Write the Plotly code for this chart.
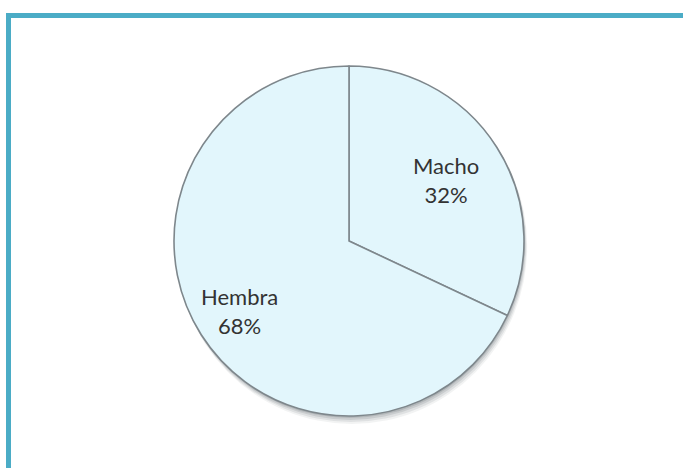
import plotly.graph_objects as go

labels = ["Macho", "Hembra"]
values = [32, 68]
slice_colors = ["#E2F6FC", "#E2F6FC"]

W, H = 683, 468
cx, cy, r = 349, 241, 175  # pixel layout of the pie

def px(x):
    return x / W

def py(y):
    return 1 - y / H

total = sum(values)
pct = [f"{round(v * 100 / total)}%" for v in values]

fig = go.Figure()
fig.add_trace(go.Pie(
    labels=labels,
    values=values,
    sort=False,
    direction="clockwise",
    rotation=0,
    textinfo="none",
    hoverinfo="label+percent",
    marker=dict(colors=slice_colors, line=dict(color="#7E878C", width=1.6)),
    domain=dict(x=[px(cx - r), px(cx + r)], y=[py(cy + r), py(cy - r)]),
    showlegend=False,
))

# soft shadow behind the pie
shapes = []
for off, alpha in [(8, 0.08), (6, 0.12), (4, 0.16), (2, 0.2)]:
    shapes.append(dict(
        type="circle", xref="paper", yref="paper", layer="below",
        x0=px(cx - r + off * 0.3), x1=px(cx + r + off * 0.4),
        y0=py(cy + r + off), y1=py(cy - r + off * 0.3),
        fillcolor=f"rgba(90,100,105,{alpha})", line=dict(width=0),
    ))

# teal frame (left and top edges)
teal = "#4BACC6"
shapes.append(dict(type="rect", xref="paper", yref="paper", layer="above",
                   x0=px(6), x1=px(11), y0=0, y1=py(13),
                   fillcolor=teal, line=dict(width=0)))
shapes.append(dict(type="rect", xref="paper", yref="paper", layer="above",
                   x0=px(6), x1=1, y0=py(18), y1=py(13),
                   fillcolor=teal, line=dict(width=0)))

label_pos = [(446, 180), (239, 311)]
annotations = []
for (lx, ly), lab, p in zip(label_pos, labels, pct):
    annotations.append(dict(
        x=px(lx), y=py(ly), xref="paper", yref="paper",
        text=f"{lab}<br>{p}", showarrow=False,
        font=dict(family="Lato, 'Open Sans', sans-serif", size=22, color="#333333"),
        align="center",
    ))

fig.update_layout(
    width=W, height=H,
    margin=dict(l=0, r=0, t=0, b=0),
    paper_bgcolor="#FFFFFF",
    plot_bgcolor="#FFFFFF",
    shapes=shapes,
    annotations=annotations,
)

fig.write_html("out.html", config={"displayModeBar": False},
               post_script="document.body.style.margin='0px';")
